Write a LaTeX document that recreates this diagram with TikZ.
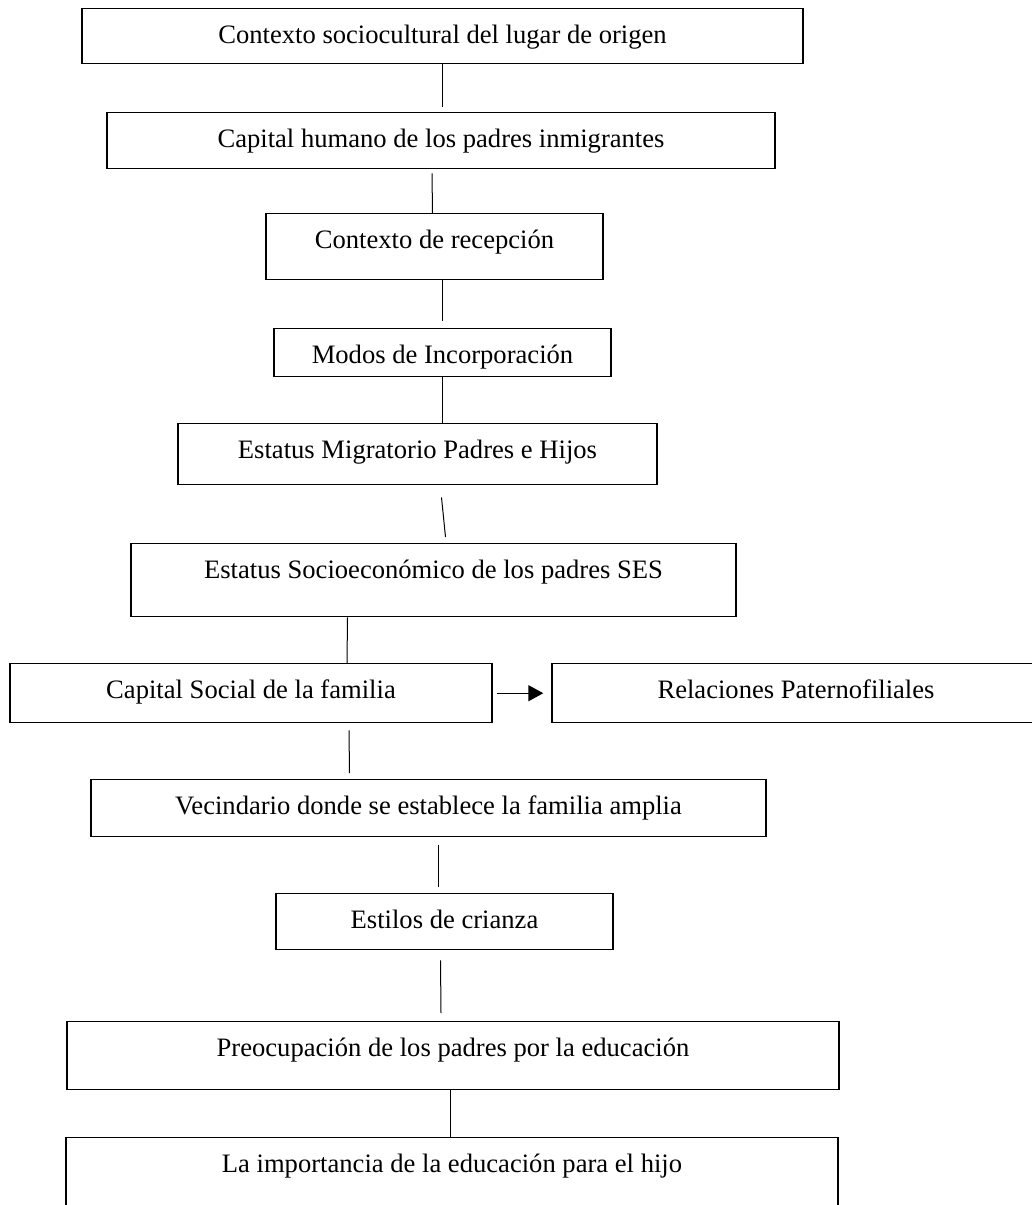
\documentclass[tikz,border=0pt]{standalone}
\usepackage{fontspec}
\setmainfont{Liberation Serif}
\usetikzlibrary{arrows.meta}

\tikzset{
  caja/.style={draw=black, line width=0.7pt, anchor=north, inner sep=0pt, text height=17.5pt, font=\fontsize{13.3}{15}\selectfont},
  linea/.style={line width=0.5pt},
  flecha/.style={line width=0.7pt, -{Triangle[length=7.5pt,width=8pt]}}
}

\begin{document}
\begin{tikzpicture}[x=0.5pt, y=-0.5pt]
\clip (0,0) rectangle (1032,1205);

\node[caja, minimum width=360.5pt, text depth=10pt] (origen) at (442.5,8) {Contexto sociocultural del lugar de origen};
\node[caja, minimum width=334pt, text depth=10.5pt] (capital) at (441,112) {Capital humano de los padres inmigrantes};
\node[caja, minimum width=168.5pt, text depth=15.5pt] (recepcion) at (434.5,213) {Contexto de recepción};
\node[caja, minimum width=168.5pt, text depth=6.5pt] (modos) at (442.5,328) {Modos de Incorporación};
\node[caja, minimum width=239.5pt, text depth=13pt] (estatus) at (417.5,423) {Estatus Migratorio Padres e Hijos};
\node[caja, minimum width=302.5pt, text depth=19pt] (ses) at (433.5,543) {Estatus Socioeconómico de los padres SES};
\node[caja, minimum width=241pt, text depth=12pt] (social) at (251,663) {Capital Social de la familia};
\node[caja, minimum width=244pt, text depth=12pt] (relaciones) at (796,663) {Relaciones Paternofiliales};
\node[caja, minimum width=337.5pt, text depth=11pt] (vecindario) at (428.5,779) {Vecindario donde se establece la familia amplia};
\node[caja, minimum width=168.5pt, text depth=10.5pt] (crianza) at (444.5,893) {Estilos de crianza};
\node[caja, minimum width=386pt, text depth=16.5pt] (preocupacion) at (453,1021) {Preocupación de los padres por la educación};
\node[caja, minimum width=386pt, text depth=32.5pt] (importancia) at (452,1137) {La importancia de la educación para el hijo};

\draw[linea] (origen.south) -- ([xshift=0.75pt,yshift=2.5pt]capital.north);
\draw[linea] ([xshift=-4.5pt,yshift=-2pt]capital.south) -- ([xshift=-1pt]recepcion.north);
\draw[linea] ([xshift=4pt]recepcion.south) -- ([yshift=3.5pt]modos.north);
\draw[linea] (modos.south) -- ([xshift=12.5pt]estatus.north);
\draw[linea] ([xshift=12pt,yshift=-6pt]estatus.south) -- ([xshift=6pt,yshift=3pt]ses.north);
\draw[linea] ([xshift=-43pt]ses.south) -- ([xshift=48pt]social.north);
\draw[flecha] ([xshift=2pt]social.east) -- ([xshift=-4pt]relaciones.west);
\draw[linea] ([xshift=49pt,yshift=-3.5pt]social.south) -- ([xshift=-39.5pt,yshift=3pt]vecindario.north);
\draw[linea] ([xshift=5pt,yshift=-4pt]vecindario.south) -- ([xshift=-3pt,yshift=3pt]crianza.north);
\draw[linea] ([xshift=-2pt,yshift=-5pt]crianza.south) -- ([xshift=-6pt,yshift=4pt]preocupacion.north);
\draw[linea] ([xshift=-1.5pt]preocupacion.south) -- ([xshift=-1pt]importancia.north);
\end{tikzpicture}
\end{document}
